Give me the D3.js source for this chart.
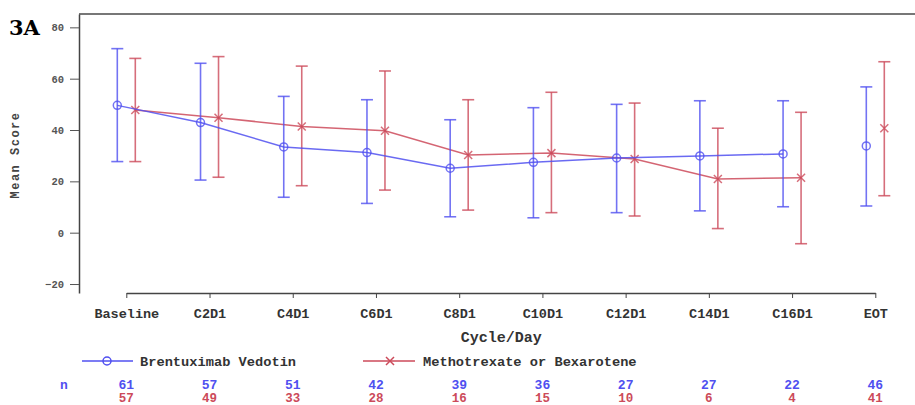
<!DOCTYPE html>
<html>
<head>
<meta charset="utf-8">
<script src="https://cdn.jsdelivr.net/npm/d3@7"></script>
<style>
  body { margin: 0; background: #fff; }
  text { font-family: "Liberation Mono", "DejaVu Sans Mono", monospace; font-weight: bold; }
</style>
</head>
<body>
<div id="chart"></div>
<script>
// data
var cycles = ["Baseline", "C2D1", "C4D1", "C6D1", "C8D1", "C10D1", "C12D1", "C14D1", "C16D1", "EOT"];
var bvMean  = [49.6, 42.9, 33.4, 31.2, 25.1, 27.4, 29.1, 29.9, 30.7, 33.8];
var bvLow   = [27.7, 20.5, 13.8, 11.4, 6.2, 5.8, 7.8, 8.5, 10.1, 10.4];
var bvHigh  = [71.7, 66.0, 53.1, 51.8, 44.0, 48.7, 50.0, 51.4, 51.4, 56.8];
var mbMean  = [47.8, 44.8, 41.4, 39.7, 30.3, 31.0, 28.7, 20.9, 21.4, 40.7];
var mbLow   = [27.7, 21.6, 18.3, 16.6, 8.8, 7.8, 6.5, 1.6, -4.3, 14.4];
var mbHigh  = [67.9, 68.6, 64.9, 63.0, 51.8, 54.7, 50.5, 40.7, 46.9, 66.6];
var bvN = [61, 57, 51, 42, 39, 36, 27, 27, 22, 46];
var mbN = [57, 49, 33, 28, 16, 15, 10, 6, 4, 41];
var yTicks = [-20, 0, 20, 40, 60, 80];

var blue = "#5050f0", red = "#cc4a5a";

var margin = {top: 14, left: 79},
    width = 860,
    height = 279;

var svg = d3.select("#chart")
  .append("svg")
    .attr("width", 915)
    .attr("height", 405);

svg.append("text")
  .attr("x", 9).attr("y", 35)
  .style("font-family", "'DejaVu Serif', serif")
  .style("font-size", "21px")
  .attr("fill", "#000")
  .text("3A");

var g = svg.append("g")
  .attr("transform", "translate(" + margin.left + "," + margin.top + ")");

var x = d3.scalePoint().domain(cycles).range([47.3, 796.3]);
var y = d3.scaleLinear().domain([-23.5, 85.2]).range([height, 0]);

// frame top
g.append("line")
  .attr("x1", 0).attr("x2", width).attr("y1", 0).attr("y2", 0)
  .attr("stroke", "#777").attr("stroke-width", 2);

// axes
var yAxis = g.append("g")
  .call(d3.axisLeft(y).tickValues(yTicks).tickSize(9).tickPadding(6).tickSizeOuter(0));
yAxis.select(".domain").attr("stroke", "#444").attr("stroke-width", 1.5);
yAxis.selectAll(".tick line").attr("stroke", "#555");
yAxis.selectAll(".tick text")
  .style("font-size", "10.5px").attr("fill", "#555");

var xAxis = g.append("g")
  .attr("transform", "translate(0," + height + ")")
  .call(d3.axisBottom(x).tickSize(5).tickPadding(10).tickSizeOuter(0));
xAxis.select(".domain").attr("stroke", "#444").attr("stroke-width", 1.5);
xAxis.selectAll(".tick line").attr("stroke", "#444");
xAxis.selectAll(".tick text")
  .style("font-size", "13.5px").attr("fill", "#333");

// axis titles
g.append("text")
  .attr("text-anchor", "middle")
  .attr("x", x("C8D1") + 42)
  .attr("y", height + 49)
  .style("font-size", "15px").attr("fill", "#333")
  .text("Cycle/Day");

svg.append("text")
  .attr("text-anchor", "middle")
  .attr("transform", "translate(19,155) rotate(-90)")
  .style("font-size", "12px").style("letter-spacing", "1.5px")
  .attr("fill", "#444")
  .text("Mean Score");

function drawSeries(mean, low, high, color, dx, marker) {
  var pts = cycles.map(function(c, i) {
    return {c: c, m: mean[i], lo: low[i], hi: high[i]};
  });
  // line (not through EOT)
  g.append("path")
    .datum(pts.slice(0, pts.length - 1))
    .attr("fill", "none")
    .attr("stroke", color)
    .attr("stroke-opacity", 0.85)
    .attr("stroke-width", 1.5)
    .attr("d", d3.line()
      .x(function(d) { return x(d.c) + dx; })
      .y(function(d) { return y(d.m); }));

  var bars = g.append("g").selectAll("g")
    .data(pts).enter().append("g")
    .attr("stroke", color).attr("stroke-opacity", 0.8).attr("stroke-width", 1.6);
  bars.append("line")
    .attr("x1", function(d) { return x(d.c) + dx; })
    .attr("x2", function(d) { return x(d.c) + dx; })
    .attr("y1", function(d) { return y(d.lo); })
    .attr("y2", function(d) { return y(d.hi); });
  ["lo", "hi"].forEach(function(k) {
    bars.append("line")
      .attr("x1", function(d) { return x(d.c) + dx - 6; })
      .attr("x2", function(d) { return x(d.c) + dx + 6; })
      .attr("y1", function(d) { return y(d[k]); })
      .attr("y2", function(d) { return y(d[k]); });
  });

  bars.each(function(d) {
    marker(d3.select(this), x(d.c) + dx, y(d.m), color);
  });
}

function circleMarker(sel, cx, cy, color) {
  sel.append("circle")
    .attr("cx", cx).attr("cy", cy).attr("r", 4)
    .attr("fill", "none").attr("stroke", color).attr("stroke-width", 1.5);
}
function crossMarker(sel, cx, cy, color) {
  sel.append("path")
    .attr("d", "M" + (cx - 4) + "," + (cy - 4) + "L" + (cx + 4) + "," + (cy + 4) +
               "M" + (cx - 4) + "," + (cy + 4) + "L" + (cx + 4) + "," + (cy - 4))
    .attr("stroke", color).attr("stroke-width", 1.5);
}

drawSeries(mbMean, mbLow, mbHigh, red, 9, crossMarker);
drawSeries(bvMean, bvLow, bvHigh, blue, -9, circleMarker);

// legend
var leg = svg.append("g");
leg.append("line").attr("x1", 82).attr("x2", 133).attr("y1", 361).attr("y2", 361)
  .attr("stroke", blue).attr("stroke-width", 1.3);
circleMarker(leg, 107, 361, blue);
leg.append("text").attr("x", 140).attr("y", 366)
  .style("font-size", "13.7px").attr("fill", "#333")
  .text("Brentuximab Vedotin");

leg.append("line").attr("x1", 363).attr("x2", 415).attr("y1", 361).attr("y2", 361)
  .attr("stroke", red).attr("stroke-width", 1.3);
crossMarker(leg, 390, 361, red);
leg.append("text").attr("x", 423).attr("y", 366)
  .style("font-size", "13.7px").attr("fill", "#333")
  .text("Methotrexate or Bexarotene");

// n at risk rows
svg.append("text").attr("x", 64).attr("y", 389)
  .attr("text-anchor", "middle")
  .style("font-size", "13px").attr("fill", blue)
  .text("n");

svg.append("g").selectAll("text")
  .data(bvN).enter().append("text")
  .attr("x", function(d, i) { return margin.left + x(cycles[i]); })
  .attr("y", 389)
  .attr("text-anchor", "middle")
  .style("font-size", "13px").attr("fill", blue)
  .text(function(d) { return d; });

svg.append("g").selectAll("text")
  .data(mbN).enter().append("text")
  .attr("x", function(d, i) { return margin.left + x(cycles[i]); })
  .attr("y", 402)
  .attr("text-anchor", "middle")
  .style("font-size", "12.5px").attr("fill", red)
  .text(function(d) { return d; });
</script>
</body>
</html>
